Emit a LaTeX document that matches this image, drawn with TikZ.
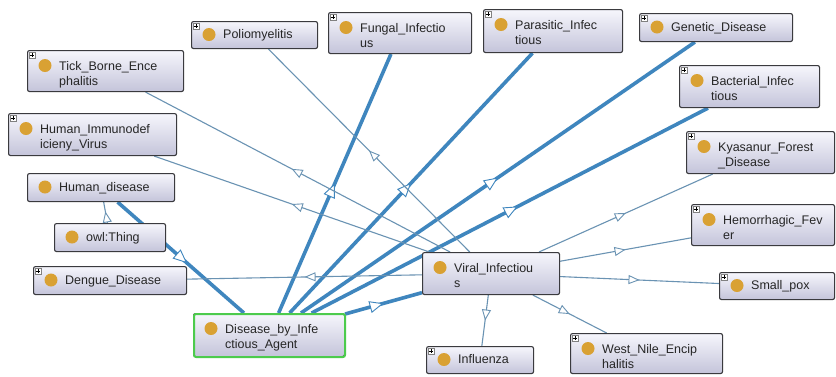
\documentclass[tikz,border=0pt]{standalone}
\usepackage{fontspec}
\setmainfont{Liberation Sans}
\usetikzlibrary{arrows.meta,decorations.markings,backgrounds,calc}
\definecolor{thickc}{HTML}{3F86BE}
\definecolor{thinc}{HTML}{6A93B3}
\definecolor{boxtop}{HTML}{F6F6FC}
\definecolor{boxbot}{HTML}{C4C4DA}
\definecolor{boxline}{HTML}{3A3A3E}
\definecolor{dotc}{HTML}{D9A133}
\definecolor{selc}{HTML}{4CCB4C}
\tikzset{
  obox/.style={draw=boxline, line width=1.1pt, rounded corners=2pt, top color=boxtop, bottom color=boxbot, inner sep=0pt},
  selbox/.style={draw=selc, line width=2pt, rounded corners=2pt, inner sep=0pt},
  odot/.style={circle, fill=dotc, minimum size=13pt, inner sep=0pt},
  otext/.style={inner sep=0pt, align=left, font=\fontsize{12.5}{15.5}\selectfont, text=black!85},
  oplus/.style={draw=gray, fill=white, line width=0.5pt, minimum size=6pt, inner sep=0pt},
  thickedge/.style={draw=thickc, line width=3.6pt,
    postaction={decorate, decoration={markings, mark=at position #1 with {\arrow{Triangle[length=14pt,width=12pt,fill=white,line width=0.9pt]}}}}},
  thinedge/.style={draw=thinc, line width=1.1pt,
    postaction={decorate, decoration={markings, mark=at position #1 with {\arrow{Triangle[length=11pt,width=9pt,fill=white,line width=0.9pt]}}}}},
}
% name, x1, y1, x2, y2, text, lines(1/2), plus(1/0)
\newcommand{\ogbox}[8]{%
  \node[obox, minimum width={#4-#2}, minimum height={#5-#3}, anchor=north west] (#1) at (#2,#3) {};
  \ifnum#7=1
    \node[odot] (#1-dot) at ({#2+18},{(#3+#5)/2}) {};
    \node[otext, anchor=base west] (#1-txt) at ({#2+32},{(#3+#5)/2+4.4}) {#6};
  \else
    \node[odot] (#1-dot) at ({#2+18},{#3+15.5}) {};
    \node[otext, anchor=base west] (#1-txt) at ({#2+32},{#3+35.5}) {#6};
  \fi
  \ifnum#8=1
    \node[oplus] (#1-plus) at ({#2+5},{#3+5}) {};
    \draw[black, line width=0.5pt] ($(#1-plus)+(-2,0)$) -- ($(#1-plus)+(2,0)$) ($(#1-plus)+(0,-2)$) -- ($(#1-plus)+(0,2)$);
  \fi
}
\begin{document}
\begin{tikzpicture}[x=1pt,y=-1pt]
\begin{scope}[on background layer]
  \fill[white] (0,0) rectangle (836,376);
\end{scope}
\useasboundingbox (0,0) rectangle (836,376);

\ogbox{polio}{191}{21}{317}{48}{Poliomyelitis}{1}{1}
\ogbox{fungal}{328}{12}{471}{53}{Fungal\_Infectio\\us}{2}{1}
\ogbox{parasitic}{483}{9}{622}{52}{Parasitic\_Infec\\tious}{2}{1}
\ogbox{genetic}{639}{13}{792}{41}{Genetic\_Disease}{1}{1}
\ogbox{bacterial}{679}{65}{819}{107}{Bacterial\_Infec\\tious}{2}{1}
\ogbox{kyasanur}{686}{131}{834}{173}{Kyasanur\_Forest\\\_Disease}{2}{1}
\ogbox{tick}{27}{50}{183}{91}{Tick\_Borne\_Ence\\phalitis}{2}{1}
\ogbox{hiv}{8}{113}{176}{155}{Human\_Immunodef\\icieny\_Virus}{2}{1}
\ogbox{human}{27}{173}{174}{201}{Human\_disease}{1}{0}
\ogbox{thing}{54}{223}{165}{251}{owl:Thing}{1}{0}
\ogbox{dengue}{33}{266}{186}{294}{Dengue\_Disease}{1}{1}
\ogbox{dia}{193}{313}{344}{356}{Disease\_by\_Infe\\ctious\_Agent}{2}{0}
\ogbox{viral}{422}{252}{559}{294}{Viral\_Infectiou\\s}{2}{0}
\ogbox{hemo}{691}{204}{834}{245}{Hemorrhagic\_Fev\\er}{2}{1}
\ogbox{smallpox}{719}{272}{834}{299}{Small\_pox}{1}{1}
\ogbox{influenza}{426}{346}{533}{373}{Influenza}{1}{1}
\ogbox{westnile}{570}{333}{722}{373}{West\_Nile\_Encip\\halitis}{2}{1}
\node[selbox, minimum width=151, minimum height=43, anchor=north west] (diasel) at (193,313) {};

\begin{scope}[on background layer]
  % thick edges
  \draw[thickedge=0.55] (human) -- (dia);
  \draw[thickedge=0.5] (dia) -- (fungal);
  \draw[thickedge=0.5] (dia) -- (parasitic);
  \draw[thickedge=0.5] (dia) -- (genetic);
  \draw[thickedge=0.52] (dia) -- (bacterial);
  \draw[thickedge=0.5] (dia) -- (viral);
  % thin edges
  \draw[thinedge=0.55] (thing) -- (human);
  \draw[thinedge=0.52] (viral) -- (tick);
  \draw[thinedge=0.5] (viral) -- (polio);
  \draw[thinedge=0.5] (viral) -- (hiv);
  \draw[thinedge=0.5] (viral) -- (dengue);
  \draw[thinedge=0.5] (viral) -- (kyasanur);
  \draw[thinedge=0.5] (viral) -- (hemo);
  \draw[thinedge=0.5] (viral) -- (smallpox);
  \draw[thinedge=0.5] (viral) -- (influenza);
  \draw[thinedge=0.5] (viral) -- (westnile);
\end{scope}
\end{tikzpicture}
\end{document}
